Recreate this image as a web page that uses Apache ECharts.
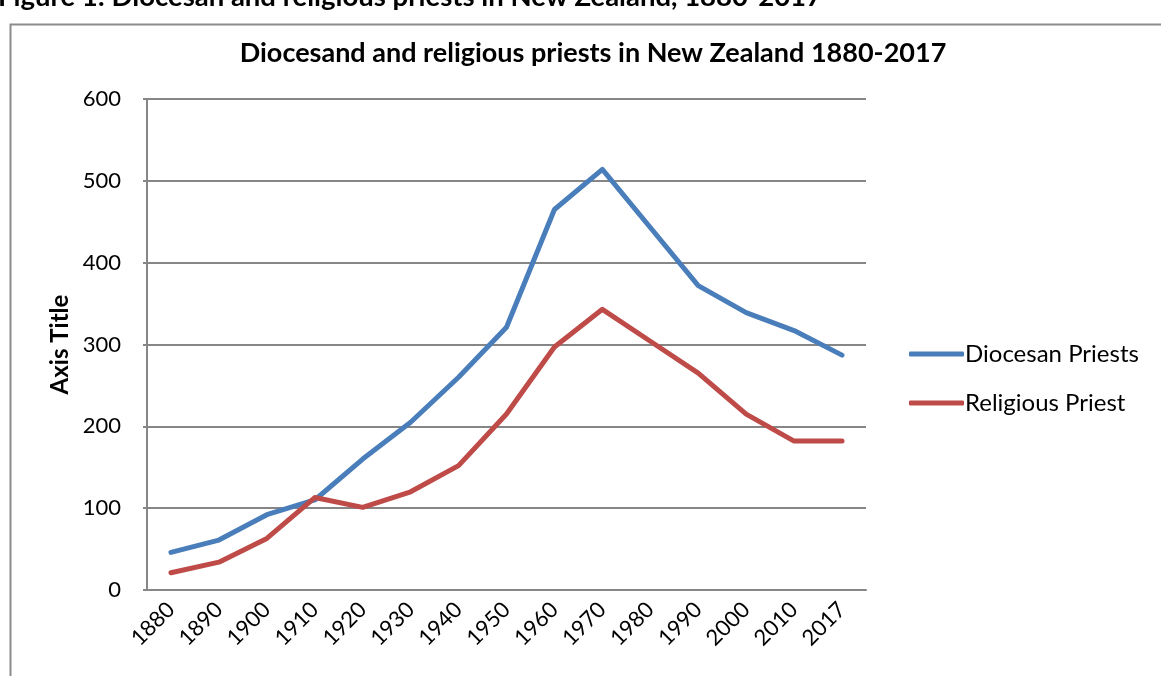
<!DOCTYPE html>
<html>
<head>
<meta charset="utf-8">
<script src="https://cdn.jsdelivr.net/npm/echarts@6/dist/echarts.min.js"></script>
<style>
html,body{margin:0;padding:0;background:#fff;}
#chart{width:1161px;height:676px;}
</style>
</head>
<body>
<div id="chart"></div>
<script>
const categories = ['1880','1890','1900','1910','1920','1930','1940','1950','1960','1970','1980','1990','2000','2010','2017'];
const diocesan = [46, 61, 92, 110, 160, 205, 260, 321, 465, 514, 443, 372, 339, 317, 287];
const religious = [21, 34, 63, 113, 101, 120, 152, 215, 297, 343, 304, 265, 215, 182, 182];
const seriesNames = ['Diocesan Priests', 'Religious Priest'];
const chartTitle = 'Diocesand and religious priests in New Zealand 1880-2017';
const caption = 'Figure 1: Diocesan and religious priests in New Zealand, 1880-2017';

const FONT = 'Lato, "Open Sans", sans-serif';
const chart = echarts.init(document.getElementById('chart'), null, {renderer: 'canvas'});
chart.setOption({
  animation: false,
  textStyle: {fontFamily: FONT},
  graphic: [
    {type: 'rect', left: 8, top: 22, shape: {width: 1170, height: 700}, style: {fill: 'none', stroke: '#8c8c8c', lineWidth: 2}, z: -1},
    {type: 'text', left: -2, top: -17, style: {text: caption, fontFamily: FONT, fontWeight: 'bold', fontSize: 27.5, fill: '#000'}}
  ],
  title: {
    text: chartTitle, left: 588, top: 35, textAlign: 'center',
    textStyle: {fontFamily: FONT, fontWeight: 'bold', fontSize: 27, color: '#000'}
  },
  legend: {
    orient: 'vertical', left: 904, top: 337, itemWidth: 55, itemHeight: 5, itemGap: 25,
    icon: 'roundRect',
    textStyle: {fontFamily: FONT, fontSize: 24, color: '#000', padding: [0, 0, 0, -4]},
    data: seriesNames
  },
  grid: {left: 147, right: 295, top: 99, bottom: 86, containLabel: false},
  xAxis: {
    type: 'category', data: categories, boundaryGap: true,
    axisLine: {lineStyle: {color: '#868686', width: 2}},
    axisTick: {show: false},
    axisLabel: {rotate: 45, margin: 16, fontSize: 22, color: '#000', fontFamily: FONT}
  },
  yAxis: {
    type: 'value', min: 0, max: 600, interval: 100,
    name: 'Axis Title', nameLocation: 'middle', nameRotate: 90, nameGap: 72,
    nameTextStyle: {fontFamily: FONT, fontWeight: 'bold', fontSize: 24, color: '#000'},
    axisLine: {show: true, lineStyle: {color: '#868686', width: 2}},
    axisTick: {show: true, length: 4, lineStyle: {color: '#868686', width: 2}},
    axisLabel: {margin: 26, fontSize: 22, color: '#000', fontFamily: FONT},
    splitLine: {lineStyle: {color: '#868686', width: 2}}
  },
  series: [
    {name: seriesNames[0], type: 'line', data: diocesan, symbol: 'none', lineStyle: {color: '#4A7EBB', width: 5, cap: 'round', join: 'round'}, itemStyle: {color: '#4A7EBB'}},
    {name: seriesNames[1], type: 'line', data: religious, symbol: 'none', lineStyle: {color: '#BE4B48', width: 5, cap: 'round', join: 'round'}, itemStyle: {color: '#BE4B48'}}
  ]
});
</script>
</body>
</html>
